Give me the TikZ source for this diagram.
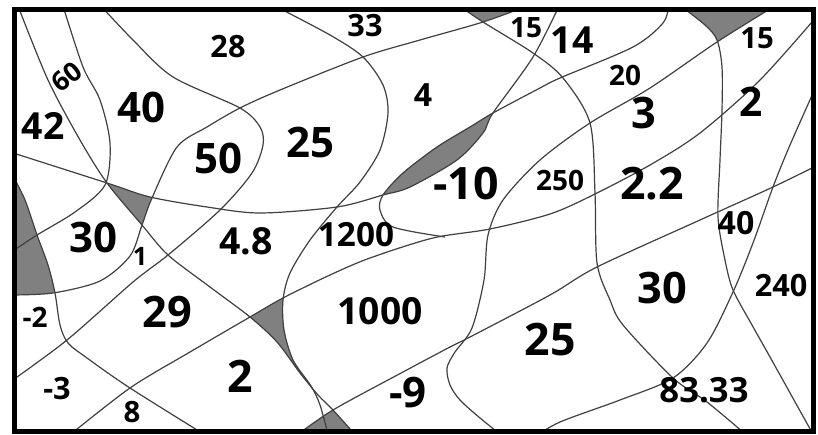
\documentclass[tikz,border=0pt]{standalone}
\usepackage{fontspec}
\setmainfont{Open Sans}
\newcommand\fz[1]{\fontsize{#1}{#1}\selectfont\bfseries}
\newcommand\cvA{plot[smooth] coordinates {(18,6) (48,80) (80,140) (107,183) (142,225) (168,255) (210,287) (250,317) (277,342) (300,373) (318,395) (333,410) (358,438)}}
\newcommand\cvB{plot[smooth] coordinates {(63,6) (83,67) (100,100) (110,143) (105,185) (75,212) (37,235) (10,253)}}
\newcommand\cvC{plot[smooth] coordinates {(12,174) (25,200) (37,235) (48,265) (55,293) (60,325) (68,343) (87,358) (130,388) (210,438)}}
\newcommand\cvD{plot[smooth] coordinates {(10,295) (53,293) (100,281) (130,256) (142,225) (152,198) (177,147) (207,127) (240,108) (280,90) (363,57) (420,40) (483,22) (530,5)}}
\newcommand\cvE{plot[smooth] coordinates {(458,5) (483,22) (533,53) (563,78) (590,123) (595,193) (597,263) (610,300) (623,325) (673,378) (707,402) (750,438)}}
\newcommand\cvF{plot[smooth] coordinates {(100,5) (133,40) (173,77) (240,108) (260,127) (263,145) (252,173) (220,210) (168,255) (133,282) (67,340) (10,382)}}
\newcommand\cvG{plot[smooth] coordinates {(10,152) (107,183) (150,197) (207,207) (260,213) (337,207) (383,195) (410,187) (457,160) (483,133) (493,113) (533,57) (560,4)}}
\newcommand\cvH{plot[smooth] coordinates {(273,5) (330,35) (363,57) (383,85) (388,113) (380,150) (360,182) (337,207) (310,240) (290,273) (283,300) (284,330) (293,360) (311,386) (320,405) (329,438)}}
\newcommand\cvJ{plot[smooth] coordinates {(445,237) (393,227) (380,210) (383,195) (403,173) (437,147) (470,127) (493,113) (540,88) (560,78) (633,47) (663,23) (669,4)}}
\newcommand\cvK{plot[smooth] coordinates {(66,438) (130,388) (190,352) (250,317) (283,298) (330,275) (370,258) (433,238) (490,229) (550,214) (593,195) (650,165) (700,133) (760,80) (818,15)}}
\newcommand\cvM{plot[smooth] coordinates {(678,4) (705,25) (717,40) (722,67) (722,110) (720,160) (718,217) (725,260) (733,290) (752,325) (770,357) (814,436)}}
\newcommand\cvN{plot[smooth] coordinates {(818,82) (790,145) (773,187) (753,243) (733,292) (707,343) (673,378) (620,400) (560,422) (533,438)}}
\newcommand\cvP{plot[smooth] coordinates {(293,438) (333,410) (403,372) (450,347) (470,337) (550,295) (597,267) (700,220) (773,187) (818,165)}}
\newcommand\cvT{plot[smooth] coordinates {(778,4) (717,42) (650,88) (590,123) (540,160) (503,200) (488,235) (484,280) (472,328) (455,352) (447,368) (450,385) (460,400) (480,418) (505,438)}}
\begin{document}
\begin{tikzpicture}[x=0.75pt,y=-0.75pt,
  curve/.style={line width=0.9pt,draw=black!75},
  shade/.style={fill=black!50},
  lab/.style={inner sep=0pt,text=black}]
\useasboundingbox (0,0) rectangle (818,435);
\fill[white] (0,0) rectangle (818,435);
\begin{scope}
\clip (14.5,9.5) rectangle (813.5,431.5);
% hourglass upper part
\begin{scope}
\clip \cvA -- (830,445) -- (830,-10) -- cycle;
\clip \cvH -- (-10,445) -- (-10,-10) -- cycle;
\clip \cvK -- (830,445) -- (-10,445) -- cycle;
\fill[shade] (0,0) rectangle (818,435);
\end{scope}
% hourglass lower part
\begin{scope}
\clip \cvP -- (830,445) -- (293,445) -- cycle;
\clip \cvA -- (-10,445) -- (-10,-10) -- cycle;
\fill[shade] (0,0) rectangle (818,435);
\end{scope}
% left region
\begin{scope}
\clip \cvC -- (-10,445) -- (-10,174) -- cycle;
\clip \cvD -- (530,-10) -- (-10,-10) -- (-10,295) -- cycle;
\fill[shade] (0,0) rectangle (818,435);
\end{scope}
% small triangle
\begin{scope}
\clip \cvG -- (830,-10) -- (830,445) -- (-10,445) -- (-10,152) -- cycle;
\clip \cvD -- (530,-10) -- (-10,-10) -- (-10,295) -- cycle;
\clip \cvA -- (830,445) -- (830,-10) -- cycle;
\fill[shade] (0,0) rectangle (818,435);
\end{scope}
% top middle
\begin{scope}
\clip \cvE -- (830,445) -- (830,-10) -- (458,-10) -- cycle;
\clip \cvD -- (530,-10) -- (-10,-10) -- (-10,295) -- cycle;
\fill[shade] (0,0) rectangle (818,435);
\end{scope}
% top right
\begin{scope}
\clip \cvM -- (830,445) -- (830,-10) -- (678,-10) -- cycle;
\clip \cvT -- (-10,445) -- (-10,-10) -- (778,-10) -- cycle;
\fill[shade] (0,0) rectangle (818,435);
\end{scope}
% lens
\begin{scope}
\clip (370,100) rectangle (500,205);
\clip \cvJ -- (669,-10) -- (830,-10) -- (830,445) -- (445,445) -- cycle;
\clip \cvG -- (560,-10) -- (-10,-10) -- (-10,152) -- cycle;
\fill[shade] (0,0) rectangle (818,435);
\end{scope}
% curves
\draw[curve] \cvA;
\draw[curve] \cvB;
\draw[curve] \cvC;
\draw[curve] \cvD;
\draw[curve] \cvE;
\draw[curve] \cvF;
\draw[curve] \cvG;
\draw[curve] \cvH;
\draw[curve] \cvJ;
\draw[curve] \cvK;
\draw[curve] \cvM;
\draw[curve] \cvN;
\draw[curve] \cvP;
\draw[curve] \cvT;
\end{scope}
\draw[line width=4pt] (14.5,9.5) rectangle (813.5,431.5);
% labels
\node[lab,font=\fz{20},rotate=38] (t60) at (67,77) {60};
\node[lab,font=\fz{28}] (t42) at (43,126) {42};
\node[lab,font=\fz{31.5}] (t40) at (141,107) {40};
\node[lab,font=\fz{23}] (t28) at (228,47) {28};
\node[lab,font=\fz{31.5}] (t50) at (218,158) {50};
\node[lab,font=\fz{31.5}] (t25a) at (310,142) {25};
\node[lab,font=\fz{23}] (t33) at (365,26) {33};
\node[lab,font=\fz{24}] (t4) at (423,95) {4};
\node[lab,font=\fz{21}] (t15a) at (526,28) {15};
\node[lab,font=\fz{28}] (t14) at (572,40) {14};
\node[lab,font=\fz{22}] (t15b) at (757,38) {15};
\node[lab,font=\fz{21}] (t20) at (625,75) {20};
\node[lab,font=\fz{32.5}] (t3) at (644,113) {3};
\node[lab,font=\fz{30.5}] (t2a) at (751,102) {2};
\node[lab,font=\fz{33.5}] (tm10) at (466,184) {-10};
\node[lab,font=\fz{21}] (t250) at (560,180) {250};
\node[lab,font=\fz{33.5}] (t22) at (652,184) {2.2};
\node[lab,font=\fz{31.5}] (t30a) at (93,237) {30};
\node[lab,font=\fz{19}] (t1) at (140,256) {1};
\node[lab,font=\fz{28}] (t48) at (246,241) {4.8};
\node[lab,font=\fz{25}] (t1200) at (356,235) {1200};
\node[lab,font=\fz{28}] (t1000) at (380,311) {1000};
\node[lab,font=\fz{32.5}] (t29) at (167,312) {29};
\node[lab,font=\fz{21}] (tm2) at (35,317) {-2};
\node[lab,font=\fz{23}] (tm3) at (57,389) {-3};
\node[lab,font=\fz{22}] (t8) at (132,412) {8};
\node[lab,font=\fz{33.5}] (t2b) at (240,376) {2};
\node[lab,font=\fz{31.5}] (tm9) at (408,393) {-9};
\node[lab,font=\fz{33.5}] (t25b) at (550,340) {25};
\node[lab,font=\fz{32.5}] (t30b) at (662,288) {30};
\node[lab,font=\fz{24}] (t40b) at (736,223) {40};
\node[lab,font=\fz{23}] (t240) at (781,286) {240};
\node[lab,font=\fz{26}] (t8333) at (704,390) {83.33};
\end{tikzpicture}
\end{document}
